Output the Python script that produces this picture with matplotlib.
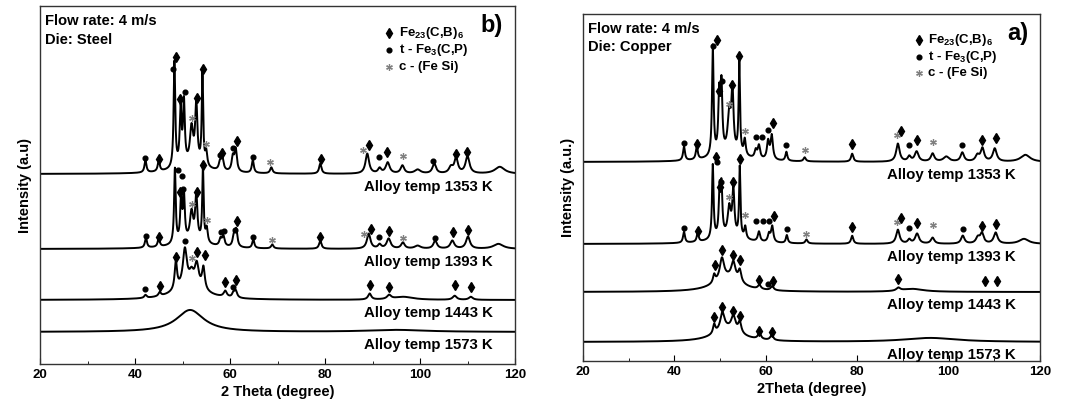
import numpy as np
import matplotlib
matplotlib.use('Agg')
import matplotlib.pyplot as plt
from matplotlib.ticker import MultipleLocator

plt.rcParams['font.family'] = ['Liberation Sans', 'DejaVu Sans']
plt.rcParams['font.weight'] = 'bold'
plt.rcParams['mathtext.fontset'] = 'custom'
plt.rcParams['mathtext.rm'] = 'Liberation Sans:bold'
plt.rcParams['mathtext.it'] = 'Liberation Sans:bold'
plt.rcParams['mathtext.bf'] = 'Liberation Sans:bold'

# ---- data -----------------------------------------------------------------
# peaks: (2theta, height, fwhm), heights in arbitrary intensity units
temps = ['1353', '1393', '1443', '1573']

steel_offsets = [190, 115, 64, 32]
steel_peaks = [
    [(42.2, 12, .5), (45.0, 11, .5), (48.3, 106, .4), (49.6, 55, .45), (50.3, 62, .45),
     (51.9, 36, .8), (52.9, 60, .55), (54.2, 92, .35), (55.0, 14, .5), (57.9, 8, .6),
     (58.4, 12, .6), (60.6, 14, .6), (61.2, 22, .6), (64.8, 13, .5), (68.7, 6, .6),
     (79.0, 10, .6), (88.9, 20, .9), (91.5, 5, .8), (93.2, 11, 1.0), (96.3, 8, .9),
     (99.5, 4, 1.5), (103.0, 10, .9), (106.5, 6, 1.0), (107.6, 15, .9), (110.0, 17, 1.0),
     (116.8, 7, 2.5), (52.0, 8, 8)],
    [(42.3, 10, .5), (45.0, 9, .5), (48.4, 75, .4), (49.7, 42, .45), (50.3, 45, .45),
     (51.9, 28, .8), (52.9, 45, .55), (54.3, 74, .35), (55.1, 14, .5), (58.0, 7, .6),
     (58.6, 10, .6), (60.8, 10, .6), (61.3, 17, .6), (64.9, 9, .5), (68.9, 4, .6),
     (79.0, 8, .6), (89.2, 15, .9), (91.5, 4, .8), (93.4, 10, 1.0), (96.4, 6, .9),
     (99.5, 3, 1.5), (103.2, 8, .9), (106.8, 8, 1.0), (110.1, 12, 1.0), (116.5, 5, 2.5),
     (52.0, 7, 8)],
    [(51.5, 15, 7), (42.2, 3, .6), (45.2, 4, .6), (48.6, 28, .6), (50.5, 36, 1.0),
     (51.9, 10, 1.0), (53.0, 22, 1.0), (54.4, 22, .7), (59.0, 6, .8), (60.7, 4, .6),
     (61.2, 7, .7), (89.4, 6, .8), (93.5, 4, 1.0), (96.5, 3, 5), (107.3, 4, 1.0),
     (110.7, 3, 1.0)],
    [(51.6, 22, 7), (95.0, 2, 15)],
]

copper_offsets = [199, 117, 69, 19]
copper_peaks = [
    [(42.1, 14, .5), (44.9, 13, .5), (48.4, 110, .4), (49.8, 58, .45), (50.3, 66, .45),
     (52.0, 38, .8), (52.7, 60, .55), (54.2, 92, .35), (55.4, 16, .5), (57.8, 8, .6),
     (58.5, 13, .6), (60.5, 18, .6), (61.3, 24, .6), (64.5, 9, .5), (68.5, 4, .6),
     (78.9, 8, .6), (88.9, 18, .9), (91.4, 5, .8), (93.0, 10, 1.0), (96.5, 8, .9),
     (99.5, 5, 1.5), (103.0, 9, .9), (106.3, 6, 1.0), (107.4, 13, .9), (110.1, 13, 1.0),
     (116.8, 7, 2.5), (52.0, 8, 8)],
    [(42.1, 11, .5), (45.1, 9, .5), (48.4, 74, .4), (49.9, 44, .45), (50.3, 46, .45),
     (52.0, 28, .8), (52.9, 45, .55), (54.3, 70, .35), (55.5, 12, .5), (58.5, 10, .6),
     (60.7, 8, .6), (61.4, 16, .6), (64.6, 8, .5), (68.9, 4, .6), (78.9, 8, .6),
     (88.9, 14, .9), (91.4, 4, .8), (93.1, 10, 1.0), (96.5, 6, .9), (103.1, 8, .9),
     (106.4, 6, 1.0), (107.3, 10, .9), (110.3, 11, 1.0), (116.5, 5, 2.5), (52.0, 7, 8)],
    [(51.6, 14, 7), (48.7, 8, .6), (50.4, 21, 1.1), (52.9, 17, 1.1), (54.3, 12, .8),
     (58.6, 4, .8), (61.4, 4, .8), (89.0, 3, 1), (92.0, 3, 6)],
    [(51.6, 13, 7), (48.7, 9, .6), (50.5, 17, 1.1), (52.9, 14, 1.1), (54.3, 11, .8),
     (58.6, 6, .8), (61.3, 5, .8), (96.0, 4, 14)],
]

# phase markers: (2theta, height above baseline, kind) D=Fe23(C,B)6, o=t-Fe3(C,P), *=c-(FeSi)
steel_marks = [
    [(42.2, 16, 'o'), (45.05, 15, 'D'), (47.9, 105, 'o'), (48.7, 117, 'D'), (49.5, 75, 'D'),
     (50.5, 82, 'o'), (51.9, 56, '*'), (53.0, 76, 'D'), (54.4, 105, 'D'), (55.0, 30, '*'),
     (57.8, 19, 'o'), (58.4, 21, 'D'), (60.6, 26, 'o'), (61.4, 33, 'D'), (64.9, 17, 'o'),
     (68.5, 12, '*'), (79.2, 15, 'D'), (87.9, 24, '*'), (89.3, 29, 'D'), (91.4, 17, 'o'),
     (93.0, 22, 'D'), (96.4, 18, '*'), (102.8, 13, 'o'), (107.6, 20, 'D'), (109.8, 22, 'D')],
    [(42.3, 13, 'o'), (45.05, 12, 'D'), (49.1, 79, 'o'), (49.8, 73, 'o'), (49.5, 57, 'D'),
     (50.2, 60, 'o'), (52.0, 45, '*'), (53.0, 57, 'D'), (54.3, 84, 'D'), (55.1, 29, '*'),
     (58.0, 17, 'o'), (58.8, 18, 'o'), (61.05, 19, 'o'), (61.4, 28, 'D'), (64.9, 12, 'o'),
     (68.9, 9, '*'), (78.9, 12, 'D'), (88.3, 15, '*'), (89.7, 20, 'D'), (91.4, 12, 'o'),
     (93.4, 18, 'D'), (96.5, 11, '*'), (103.2, 11, 'o'), (106.9, 17, 'D'), (110.1, 19, 'D')],
    [(42.2, 11, 'o'), (45.2, 14, 'D'), (48.6, 43, 'D'), (50.5, 59, 'o'), (51.9, 42, '*'),
     (53.05, 48, 'D'), (54.7, 45, 'D'), (59.0, 18, 'D'), (60.7, 13, 'o'), (61.3, 20, 'D'),
     (89.4, 15, 'D'), (93.5, 13, 'D'), (107.3, 15, 'D'), (110.7, 13, 'D')],
    [],
]

copper_marks = [
    [(42.1, 19, 'o'), (44.9, 18, 'D'), (48.4, 116, 'o'), (49.3, 122, 'D'), (49.7, 71, 'D'),
     (50.4, 81, 'o'), (52.0, 58, '*'), (52.65, 77, 'D'), (54.2, 106, 'D'), (55.4, 31, '*'),
     (57.75, 25, 'o'), (59.1, 25, 'o'), (60.5, 32, 'o'), (61.5, 39, 'D'), (64.5, 17, 'o'),
     (68.5, 12, '*'), (78.9, 18, 'D'), (88.7, 27, '*'), (89.5, 31, 'D'), (91.35, 17, 'o'),
     (93.0, 22, 'D'), (96.5, 20, '*'), (103.0, 17, 'o'), (107.4, 22, 'D'), (110.4, 24, 'D')],
    [(42.1, 16, 'o'), (45.1, 13, 'D'), (49.2, 87, 'D'), (49.4, 82, 'o'), (49.9, 57, 'D'),
     (50.2, 62, 'o'), (52.0, 47, '*'), (52.9, 62, 'D'), (54.3, 85, 'D'), (55.5, 29, '*'),
     (57.8, 23, 'o'), (59.3, 23, 'o'), (60.7, 23, 'o'), (61.8, 28, 'D'), (64.6, 15, 'o'),
     (68.9, 10, '*'), (78.9, 17, 'D'), (88.7, 22, '*'), (89.5, 26, 'D'), (91.4, 16, 'o'),
     (93.1, 21, 'D'), (96.5, 19, '*'), (103.1, 15, 'o'), (107.4, 18, 'D'), (110.4, 20, 'D')],
    [(48.8, 27, 'D'), (50.4, 42, 'D'), (52.9, 37, 'D'), (54.4, 32, 'D'), (58.6, 12, 'D'),
     (60.4, 8, 'o'), (61.5, 11, 'D'), (88.9, 13, 'D'), (108.0, 11, 'D'), (110.6, 11, 'D')],
    [(48.6, 25, 'D'), (50.5, 35, 'D'), (52.9, 31, 'D'), (54.4, 26, 'D'), (58.6, 11, 'D'),
     (61.3, 10, 'D')],
]

legend_labels = [r'Fe$_{23}$(C,B)$_6$', r't - Fe$_3$(C,P)', r'c - (Fe Si)']
legend_kinds = ['D', 'o', '*']

two_theta = np.linspace(20, 120, 5000)

mstyle = {
    'D': dict(marker='d', markersize=5.5, color='black'),
    'o': dict(marker='o', markersize=3.4, color='black'),
    '*': dict(marker=(6, 2, 0), markersize=4.8, color='#808080', markeredgewidth=0.9),
}


def pattern(peaks):
    y = np.zeros_like(two_theta)
    for c, h, w in peaks:
        y += h / (1 + (2 * (two_theta - c) / w) ** 2)
    return y


def draw_panel(ax, offsets, peaks, marks, ytop, label_x, die, letter, xlabel, ylabel):
    for off, pk, mk, t in zip(offsets, peaks, marks, temps):
        ax.plot(two_theta, off + pattern(pk), color='black', lw=1.4)
        for pos, h, kind in mk:
            ax.plot(pos, off + h, linestyle='none', **mstyle[kind])
        ax.text(label_x, off - 13, f'Alloy temp {t} K', ha='right', va='center',
                fontsize=10.8, fontweight='bold')

    ax.set_xlim(20, 120)
    ax.set_ylim(0, ytop)
    ax.set_yticks([])
    ax.xaxis.set_major_locator(MultipleLocator(20))
    ax.xaxis.set_minor_locator(MultipleLocator(10))
    ax.tick_params(axis='x', which='both', direction='in', labelsize=9.5)
    ax.tick_params(axis='x', which='major', length=4)
    ax.tick_params(axis='x', which='minor', length=2.5)
    for lab in ax.get_xticklabels():
        lab.set_fontweight('bold')
    for s in ax.spines.values():
        s.set_linewidth(1.0)
        s.set_color('#333333')
    ax.set_xlabel(xlabel, fontsize=10.5, fontweight='bold', labelpad=3)
    ax.set_ylabel(ylabel, fontsize=10.5, fontweight='bold', labelpad=6)

    ax.text(0.01, 0.958, 'Flow rate: 4 m/s', transform=ax.transAxes, fontsize=10.6,
            fontweight='bold', va='center')
    ax.text(0.01, 0.905, f'Die: {die}', transform=ax.transAxes, fontsize=10.6,
            fontweight='bold', va='center')
    ax.text(0.975, 0.945, letter, transform=ax.transAxes, fontsize=17,
            fontweight='bold', ha='right', va='center')

    for i, (lab, kind) in enumerate(zip(legend_labels, legend_kinds)):
        yy = 0.925 - i * 0.048
        ax.plot(0.735, yy, transform=ax.transAxes, linestyle='none', clip_on=False,
                **mstyle[kind])
        ax.text(0.755, yy, lab, transform=ax.transAxes, fontsize=9.5,
                va='center', ha='left')


fig = plt.figure(figsize=(10.65, 4.12), dpi=100)
ax_b = fig.add_axes([40 / 1065, 1 - 364 / 412, 475 / 1065, 358 / 412])
ax_a = fig.add_axes([583 / 1065, 1 - 361 / 412, 457 / 1065, 347 / 412])

draw_panel(ax_b, steel_offsets, steel_peaks, steel_marks, 358, 115.4, 'Steel', 'b)',
           '2 Theta (degree)', 'Intensity (a.u)')
draw_panel(ax_a, copper_offsets, copper_peaks, copper_marks, 347, 114.7, 'Copper', 'a)',
           '2Theta (degree)', 'Intensity (a.u.)')

fig.savefig('out.png', dpi=100)
